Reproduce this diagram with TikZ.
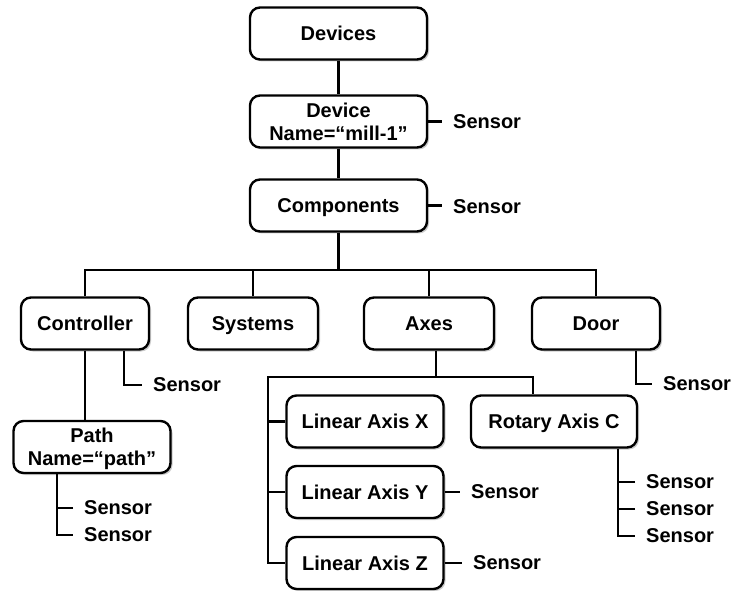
\documentclass[tikz,border=0pt]{standalone}
\usepackage{fontspec}
\setmainfont{Liberation Sans}
\usetikzlibrary{shadows}

\tikzset{
	box/.style={draw, line width=2.4pt, rounded corners=10pt, fill=white, align=center,
		inner sep=0pt, minimum height=52pt, text depth=0pt,
		drop shadow={shadow xshift=2pt, shadow yshift=-2pt, fill=black!40, opacity=0.5}},
	sensor/.style={anchor=west, inner xsep=11pt, inner ysep=0pt},
	link/.style={line width=2.4pt},
}
\newcommand{\sensornode}[3]{%
	\node[sensor] (#1) at (#2,#3) {Sensor};
}

\begin{document}
\begin{tikzpicture}[x=1pt, y=-1pt, font=\fontsize{20}{23}\selectfont\bfseries]
	
	\useasboundingbox (0,0) rectangle (732,591);
	\fill[white] (0,0) rectangle (732,591);
	
	% top chain
	\node[box, minimum width=177pt] (devices) at (338.5,33.5) {Devices};
	\node[box, minimum width=177pt] (device) at (338.5,121.5) {Device\\Name=“mill-1”};
	\node[box, minimum width=177pt] (comp) at (338.5,205.5) {Components};
	
	% components
	\node[box, minimum width=128pt] (ctrl) at (85,323.5) {Controller};
	\node[box, minimum width=130pt] (sys) at (253,323.5) {Systems};
	\node[box, minimum width=130pt] (axes) at (429,323.5) {Axes};
	\node[box, minimum width=128pt] (door) at (596,323.5) {Door};
	
	\node[box, minimum width=157pt] (pathbox) at (92,447) {Path\\Name=“path”};
	
	% axes
	\node[box, minimum width=157pt] (linx) at (365,421.5) {Linear Axis X};
	\node[box, minimum width=157pt] (liny) at (365,492) {Linear Axis Y};
	\node[box, minimum width=157pt] (linz) at (365,563) {Linear Axis Z};
	\node[box, minimum width=166pt] (rotc) at (554,421.5) {Rotary Axis C};
	
	% sensors
	\sensornode{sdev}{442}{122}
	\sensornode{scomp}{442}{207}
	\sensornode{sctrl}{142}{385}
	\sensornode{spath1}{73}{508}
	\sensornode{spath2}{73}{535}
	\sensornode{sliny}{460}{492}
	\sensornode{slinz}{462}{563}
	\sensornode{srot1}{635}{482}
	\sensornode{srot2}{635}{509}
	\sensornode{srot3}{635}{536}
	\sensornode{sdoor}{652}{384}
	
	\draw[link] (devices) -- (device);
	\draw[link] (device) -- (comp);
	\draw[link] (device.east) -- (device.east -| sdev.west);
	\draw[link] (comp.east) -- (comp.east -| scomp.west);
	
	\coordinate (mbar) at (338.5,270);
	\draw[link] (comp) -- (mbar);
	\draw[link] (ctrl.north) |- (mbar) -| (door.north);
	\draw[link] (sys.north) -- (sys.north |- mbar);
	\draw[link] (axes.north) -- (axes.north |- mbar);
	
	\draw[link] (ctrl.south) -- (ctrl.south |- pathbox.north);
	\draw[link] ([xshift=39pt]ctrl.south) |- (sctrl.west);
	\draw[link] ([xshift=-35pt]pathbox.south) coordinate (prail) |- (spath2.west);
	\draw[link] (spath1.west) -- (spath1.west -| prail);
	
	\coordinate (abar) at (268,377);
	\draw[link] ([xshift=7pt]axes.south) |- (abar) |- (linz.west);
	\draw[link] (abar) -| ([xshift=-21pt]rotc.north);
	\draw[link] (linx.west) -- (linx.west -| abar);
	\draw[link] (liny.west) -- (liny.west -| abar);
	\draw[link] (liny.east) -- (sliny.west);
	\draw[link] (linz.east) -- (slinz.west);
	
	\draw[link] ([xshift=64pt]rotc.south) coordinate (rrail) |- (srot3.west);
	\draw[link] (srot1.west) -- (srot1.west -| rrail);
	\draw[link] (srot2.west) -- (srot2.west -| rrail);
	
	\draw[link] ([xshift=40pt]door.south) |- (sdoor.west);

\end{tikzpicture}
\end{document}
